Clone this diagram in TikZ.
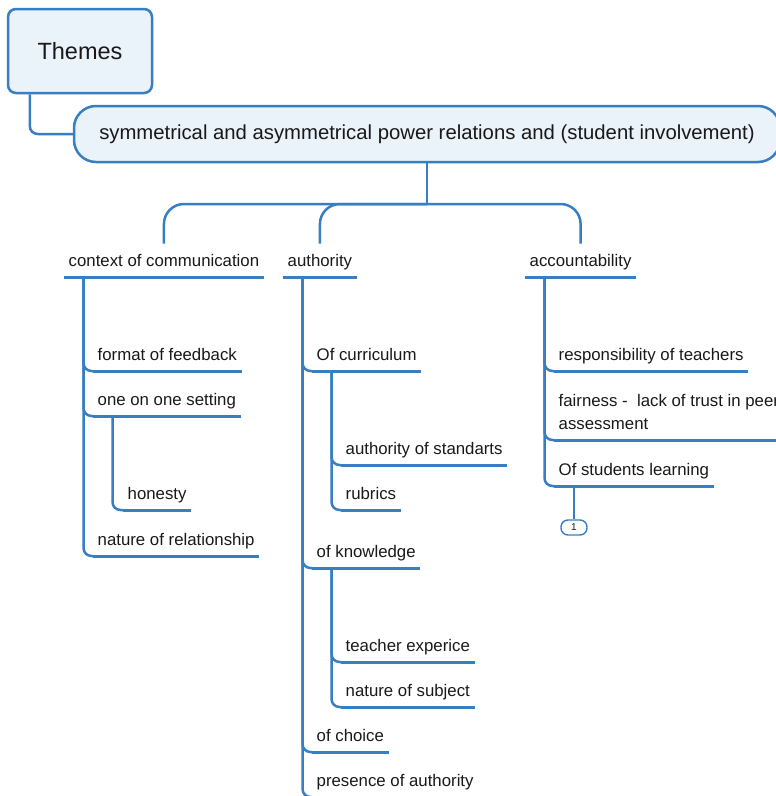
\documentclass[tikz,border=0pt]{standalone}
\usepackage{fontspec}
\setmainfont{Liberation Sans}
\usepackage{tikz}
\usetikzlibrary{positioning}
\definecolor{mapblue}{RGB}{55,126,194}
\definecolor{mapfill}{RGB}{234,242,250}
\definecolor{maptext}{RGB}{25,25,25}
\newcommand{\topicfont}{\fontsize{16.8}{23}\selectfont}

\tikzset{
  link/.style={draw=mapblue,line width=2.5pt,rounded corners=8pt},
  uline/.style={draw=mapblue,line width=3pt},
  topic/.style={font=\topicfont,text=maptext,inner xsep=4.5pt,inner ysep=6pt,
    text height=17pt,text depth=4pt,anchor=south west,
    append after command={(\tikzlastnode.south west) edge[uline] (\tikzlastnode.south east)}},
  rootbox/.style={draw=mapblue,fill=mapfill,line width=2.5pt,rounded corners=8pt,
    font=\fontsize{23.5}{24}\selectfont,text=maptext},
  mainbox/.style={draw=mapblue,fill=mapfill,line width=2.5pt,rounded corners=22pt,
    font=\fontsize{20.3}{21}\selectfont,text=maptext},
  badge/.style={draw=mapblue,fill=white,line width=1.4pt,rounded corners=7pt,
    minimum width=26pt,minimum height=15pt,inner sep=0pt,
    font=\fontsize{10}{10}\selectfont,text=maptext}
}

\begin{document}
\begin{tikzpicture}[x=1pt,y=-1pt]
  \useasboundingbox (0,0) rectangle (776,796);
  % root and central topic
  \node[rootbox,minimum width=144pt,minimum height=84pt] (themes) at (80,51) {Themes};
  \node[mainbox,minimum width=706pt,minimum height=56pt] (main) at (427,134)
    {\raisebox{-1pt}{symmetrical and asymmetrical power relations and (student involvement)}};
  \draw[link] ([xshift=23pt]themes.south west) |- (main.west);

  % main branches
  \node[topic] (ctx) at (64,277) {context of communication};
  \node[topic] (auth) at (283,277) {authority};
  \node[topic] (acc) at (525,277) {accountability};
  \coordinate (hub) at (main.south |- 0,204);
  \draw[link] (main.south) -- (hub);
  \foreach \b in {ctx,auth,acc}
    \draw[link,rounded corners=20pt] (hub) -| (\b.north);

  % context of communication
  \node[topic] (fmt) at (93,371) {format of feedback};
  \node[topic] (one) at (93,416) {one on one setting};
  \node[topic] (hon) at (123,510) {honesty};
  \node[topic] (rel) at (93,556) {nature of relationship};
  \foreach \c in {fmt,one,rel}
    \draw[link] ([xshift=19.5pt]ctx.south west) |- (\c.south west);
  \draw[link] ([xshift=19.5pt]one.south west) |- (hon.south west);

  % authority
  \node[topic] (cur) at (312,371) {Of curriculum};
  \node[topic] (std) at (341,465) {authority of standarts};
  \node[topic] (rub) at (341,510) {rubrics};
  \node[topic] (know) at (312,568) {of knowledge};
  \node[topic] (exp) at (341,662) {teacher experice};
  \node[topic] (subj) at (341,707) {nature of subject};
  \node[topic] (cho) at (312,752) {of choice};
  \node[topic] (pres) at (312,797) {presence of authority};
  \foreach \c in {cur,know,cho,pres}
    \draw[link] ([xshift=19.5pt]auth.south west) |- (\c.south west);
  \foreach \c in {std,rub}
    \draw[link] ([xshift=19.5pt]cur.south west) |- (\c.south west);
  \foreach \c in {exp,subj}
    \draw[link] ([xshift=19.5pt]know.south west) |- (\c.south west);

  % accountability
  \node[topic] (resp) at (554,371) {responsibility of teachers};
  \node[topic,align=left,text height=,text depth=,inner ysep=10pt] (fair) at (554,440)
    {fairness -\ \ lack of trust in peer\\assessment};
  \node[topic] (lrn) at (554,486) {Of students learning};
  \foreach \c in {resp,fair,lrn}
    \draw[link] ([xshift=19.5pt]acc.south west) |- (\c.south west);
  \node[badge] (more) at (574,527.5) {1};
  \draw[link] (more.north |- lrn.south) -- (more.north);
\end{tikzpicture}
\end{document}
